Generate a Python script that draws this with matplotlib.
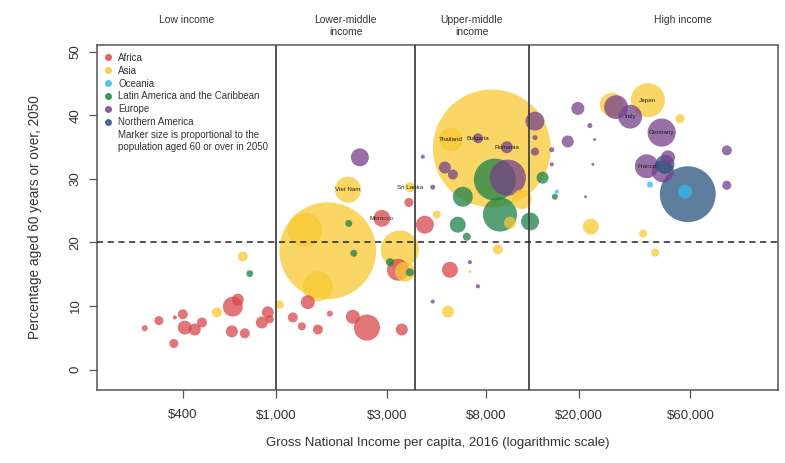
import matplotlib
matplotlib.use("Agg")
import matplotlib.pyplot as plt
from matplotlib.lines import Line2D
from matplotlib.transforms import blended_transform_factory
import numpy as np

plt.rcParams['font.family'] = ['Liberation Sans', 'DejaVu Sans']

# GNI per capita 2016 (US$), % aged 60+ in 2050, population aged 60+ in 2050 (millions)
africa_gni = [274, 315, 365, 399, 407, 449, 482, 369, 654, 687, 648, 736, 871, 924, 942,
              1372, 1183, 1293, 1515, 1705, 2140, 2460, 3470, 2850, 3340, 3720, 4360, 5580]
africa_pct = [6.5, 7.7, 4.1, 8.7, 6.6, 6.3, 7.4, 8.2, 9.9, 11.0, 6.0, 5.7, 7.4, 9.0, 7.9,
              10.6, 8.2, 6.8, 6.3, 8.8, 8.3, 6.6, 6.3, 23.8, 15.7, 26.3, 22.8, 15.7]
africa_pop = [1.3, 2.9, 2.9, 3.5, 6.9, 5.1, 3.5, 0.6, 14, 5.1, 5.1, 3.5, 5.1, 5.1, 2.3,
              6.9, 3.5, 2.3, 3.5, 1.3, 6.9, 24, 5.1, 10, 17, 2.9, 11.4, 9]

asia_gni = [1670, 8440, 1515, 1332, 2039, 3403, 3580, 3758, 5640, 722, 558, 1040, 5470,
            4900, 8960, 10100, 11360, 22450, 27600, 39430, 54200, 37600, 42400, 6800]
asia_pct = [18.7, 34.8, 13.1, 22.0, 28.3, 18.9, 15.4, 28.7, 36.2, 17.8, 9.0, 10.2, 9.1,
            24.4, 18.9, 23.1, 26.8, 22.5, 41.7, 42.4, 39.5, 21.4, 18.4, 15.4]
asia_pop = [330, 490, 32, 41, 24, 51, 14, 3.5, 20, 3.5, 3.5, 2.3, 5.1,
            2.3, 3.5, 5.1, 14, 9, 20, 41, 2.9, 2.3, 2.3, 0.3]

oceania_gni = [56900, 40270, 16060]
oceania_pct = [28.0, 29.1, 28.0]
oceania_pop = [6.9, 1.3, 0.6]

latam_gni = [8700, 9150, 6340, 6030, 6590, 12320, 13940, 15740, 773, 2055, 2160, 3085, 3760]
latam_pct = [29.9, 24.4, 27.2, 22.8, 20.9, 23.3, 30.2, 27.2, 15.1, 23.0, 18.3, 16.9, 15.3]
latam_pop = [62, 41, 14, 9, 2.3, 11.4, 5.1, 1.3, 1.7, 1.7, 1.7, 2.3, 2.3]

europe_gni = [2293, 9890, 9790, 7360, 5310, 5750, 12930, 12930, 12930, 15260, 15260,
              19750, 17870, 22240, 28800, 33100, 45200, 39000, 45700, 48100, 86000, 86000,
              4710, 4270, 7360, 4710, 6800, 23300, 22900, 21300]
europe_pct = [33.4, 30.2, 35.0, 36.4, 31.8, 30.7, 39.1, 36.5, 34.3, 34.6, 32.3,
              41.1, 35.9, 38.4, 41.3, 39.8, 37.3, 32.0, 31.2, 33.4, 34.5, 29.0,
              28.7, 33.5, 13.1, 10.7, 16.9, 36.2, 32.3, 27.2]
europe_pop = [11.4, 46, 5.1, 3.5, 5.1, 3.5, 12.7, 0.9, 2.3, 0.9, 0.6,
              6, 5.1, 0.9, 20, 20, 28, 20, 17, 6.9, 3.5, 2.9,
              0.9, 0.6, 0.6, 0.6, 0.6, 0.3, 0.3, 0.3]

namerica_gni = [58500, 46700]
namerica_pct = [27.6, 32.3]
namerica_pop = [110, 12.7]

regions = ['Africa', 'Asia', 'Oceania', 'Latin America and the Caribbean',
           'Europe', 'Northern America']
colors = ['#D8474B', '#F9C934', '#2FBCEA', '#1C8146', '#74408A', '#2A527F']

labels = ['Viet Nam', 'Morocco', 'Sri Lanka', 'Thailand', 'Bulgaria', 'Romania',
          'Japan', 'Germany', 'Italy', 'France']
labels_gni = [2039, 2850, 3758, 5640, 7360, 9790, 39430, 45200, 33100, 39000]
labels_pct = [28.3, 23.8, 28.7, 36.2, 36.4, 35.0, 42.4, 37.3, 39.8, 32.0]

thresholds = [1005, 3955, 12235]
groups = ['Low income', 'Lower-middle\nincome', 'Upper-middle\nincome', 'High income']
groups_x = [415, 1996, 6930, 55800]

xticks = [400, 1000, 3000, 8000, 20000, 60000]
xticklabels = ['$400', '$1,000', '$3,000', '$8,000', '$20,000', '$60,000']
yticks = [0, 10, 20, 30, 40, 50]

fig = plt.figure(figsize=(7.85, 4.63), dpi=100)
ax = fig.add_axes([0.1236, 0.158, 0.8674, 0.745])

# gather all points, draw large bubbles first
gni, pct, pop, col = [], [], [], []
series = [(africa_gni, africa_pct, africa_pop), (asia_gni, asia_pct, asia_pop),
          (oceania_gni, oceania_pct, oceania_pop), (latam_gni, latam_pct, latam_pop),
          (europe_gni, europe_pct, europe_pop), (namerica_gni, namerica_pct, namerica_pop)]
for (g, p, s), c in zip(series, colors):
    gni += g
    pct += p
    pop += s
    col += [c] * len(g)
gni, pct, pop = np.array(gni), np.array(pct), np.array(pop)
order = np.argsort(-pop)
ax.scatter(gni[order], pct[order], s=pop[order] * 14.7,
           c=[col[i] for i in order], alpha=0.75, linewidths=0, zorder=2)

for name, x, y in zip(labels, labels_gni, labels_pct):
    ax.text(x, y, name, fontsize=4.5, ha='center', va='center', color='#222222', zorder=4)

for t in thresholds:
    ax.axvline(t, color='#444444', lw=1.3, zorder=3)
ax.axhline(20, color='#222222', lw=1.1, ls=(0, (4, 3)), zorder=3)

trans = blended_transform_factory(ax.transData, ax.transAxes)
for name, x in zip(groups, groups_x):
    ax.text(x, 1.088, name, transform=trans, ha='center', va='top', fontsize=7.5,
            color='#333333', linespacing=1.35)

ax.set_xscale('log')
ax.set_xlim(171, 142500)
ax.set_ylim(-3.2, 51.1)
ax.set_xticks(xticks)
ax.set_xticklabels(xticklabels)
ax.xaxis.set_minor_locator(matplotlib.ticker.NullLocator())
ax.set_yticks(yticks)
ax.set_yticklabels([str(v) for v in yticks], rotation=90, va='center')
ax.tick_params(axis='both', direction='out', length=6, width=0.9, color='#555555',
               labelsize=9.5, labelcolor='#333333')
ax.tick_params(axis='x', pad=8)
ax.tick_params(axis='y', pad=5)
for sp in ax.spines.values():
    sp.set_color('#555555')
    sp.set_linewidth(1.1)

ax.set_xlabel('Gross National Income per capita, 2016 (logarithmic scale)', fontsize=9.5,
              color='#333333', labelpad=11)
ax.set_ylabel('Percentage aged 60 years or over, 2050', fontsize=9.8, color='#333333',
              labelpad=20)

handles = [Line2D([], [], marker='o', ls='', color=c, markersize=4, alpha=0.8) for c in colors]
handles.append(Line2D([], [], ls='', marker=''))
names = regions + ['Marker size is proportional to the\npopulation aged 60 or over in 2050']
ax.legend(handles, names, loc='upper left', bbox_to_anchor=(0.0, 1.0), frameon=False,
          fontsize=7, handlelength=0.6, handletextpad=0.8, labelspacing=0.3,
          borderaxespad=0.4, labelcolor='#333333')

fig.savefig('out.png', dpi=100)
